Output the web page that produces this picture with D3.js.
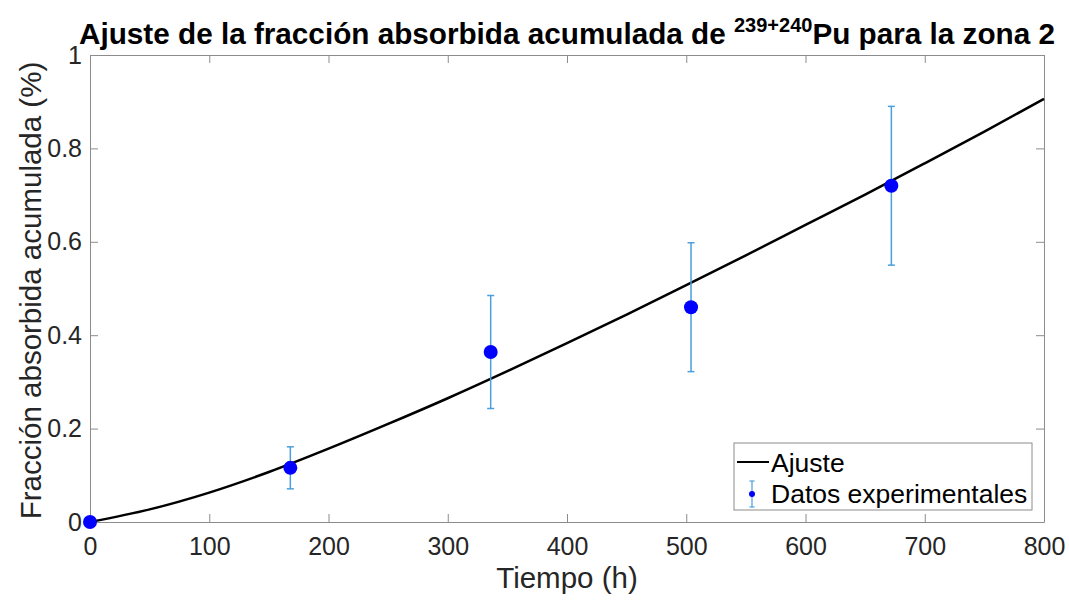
<!DOCTYPE html>
<html>
<head>
<meta charset="utf-8">
<script src="https://cdn.jsdelivr.net/npm/d3@7"></script>
<style>
  body { margin: 0; background: #fff; }
  svg { display: block; }
  text { font-family: "Liberation Sans", Arial, sans-serif; }
</style>
</head>
<body>
<svg id="chart" width="1069" height="601"></svg>
<script>
// Experimental points (hours, accumulated absorbed fraction %) and their error
const expTime = [0, 168, 336, 504, 672];
const expValue = [0, 0.116, 0.364, 0.460, 0.720];
const expErr = [0, 0.045, 0.121, 0.138, 0.170];

// Fitted curve
const fitTime = [0, 50, 100, 150, 200, 250, 300, 350, 400, 450, 500, 550, 600, 650, 700, 750, 800];
const fitValue = [0, 0.027, 0.063, 0.107, 0.157, 0.21, 0.265, 0.323, 0.383, 0.444, 0.507, 0.571, 0.636, 0.701, 0.768, 0.836, 0.906];

const xTicks = [0, 100, 200, 300, 400, 500, 600, 700, 800];
const yTicks = [0, 0.2, 0.4, 0.6, 0.8, 1];

const margin = {top: 55, right: 25, bottom: 79, left: 90};
const width = 1069 - margin.left - margin.right;
const height = 601 - margin.top - margin.bottom;

const svg = d3.select("#chart");
const g = svg.append("g")
    .attr("transform", "translate(" + margin.left + "," + margin.top + ")");

const x = d3.scaleLinear().domain([0, 800]).range([0, width]);
const y = d3.scaleLinear().domain([0, 1]).range([height, 0]);

const axisColor = "#8c8c8c";
const textColor = "#262626";

// ticks on all four sides, pointing inwards
const addAxis = (axis, transform) => {
    const a = g.append("g").attr("transform", transform).call(axis);
    a.select(".domain").attr("stroke", axisColor);
    a.selectAll(".tick line").attr("stroke", axisColor);
    a.selectAll("text").attr("fill", textColor).style("font-size", "25px");
    return a;
};

addAxis(d3.axisBottom(x).tickValues(xTicks).tickSizeInner(-8).tickSizeOuter(0).tickPadding(15).tickFormat(d3.format("d")),
    "translate(0," + height + ")");
addAxis(d3.axisTop(x).tickValues(xTicks).tickSizeInner(-8).tickSizeOuter(0).tickFormat(""), "translate(0,0)");
addAxis(d3.axisLeft(y).tickValues(yTicks).tickSizeInner(-8).tickSizeOuter(0).tickPadding(8).tickFormat(d => String(+d.toFixed(1))),
    "translate(0,0)");
addAxis(d3.axisRight(y).tickValues(yTicks).tickSizeInner(-8).tickSizeOuter(0).tickFormat(""), "translate(" + width + ",0)");

// fitted curve
const line = d3.line()
    .x((d, i) => x(fitTime[i]))
    .y(d => y(d))
    .curve(d3.curveMonotoneX);

g.append("path")
    .datum(fitValue)
    .attr("fill", "none")
    .attr("stroke", "#000")
    .attr("stroke-width", 2.5)
    .attr("d", line);

// error bars
const errColor = "#4a9fdc";
const eb = g.selectAll(".err")
    .data(expTime.map((t, i) => ({t: t, v: expValue[i], e: expErr[i]})))
    .enter().append("g").attr("class", "err");

eb.append("line")
    .attr("x1", d => x(d.t)).attr("x2", d => x(d.t))
    .attr("y1", d => y(d.v - d.e)).attr("y2", d => y(d.v + d.e))
    .attr("stroke", errColor).attr("stroke-width", 1.5);
eb.append("line")
    .attr("x1", d => x(d.t) - 3.5).attr("x2", d => x(d.t) + 3.5)
    .attr("y1", d => y(d.v + d.e)).attr("y2", d => y(d.v + d.e))
    .attr("stroke", errColor).attr("stroke-width", 1.5);
eb.append("line")
    .attr("x1", d => x(d.t) - 3.5).attr("x2", d => x(d.t) + 3.5)
    .attr("y1", d => y(d.v - d.e)).attr("y2", d => y(d.v - d.e))
    .attr("stroke", errColor).attr("stroke-width", 1.5);

eb.append("circle")
    .attr("cx", d => x(d.t))
    .attr("cy", d => y(d.v))
    .attr("r", 7)
    .attr("fill", "#0000ff");

// legend
const lg = g.append("g").attr("transform", "translate(" + (734 - margin.left) + "," + (443 - margin.top) + ")");
lg.append("rect")
    .attr("width", 298).attr("height", 67)
    .attr("fill", "#fff").attr("stroke", axisColor).attr("stroke-width", 1);
lg.append("line")
    .attr("x1", 3).attr("x2", 35).attr("y1", 19).attr("y2", 19)
    .attr("stroke", "#000").attr("stroke-width", 2);
lg.append("text")
    .attr("x", 37).attr("y", 29)
    .style("font-size", "26.5px").attr("fill", "#000")
    .text("Ajuste");
lg.append("line")
    .attr("x1", 18).attr("x2", 18).attr("y1", 38).attr("y2", 64)
    .attr("stroke", errColor).attr("stroke-width", 1.2);
lg.append("line")
    .attr("x1", 15.5).attr("x2", 20.5).attr("y1", 38).attr("y2", 38)
    .attr("stroke", errColor).attr("stroke-width", 1.2);
lg.append("line")
    .attr("x1", 15.5).attr("x2", 20.5).attr("y1", 64).attr("y2", 64)
    .attr("stroke", errColor).attr("stroke-width", 1.2);
lg.append("circle")
    .attr("cx", 18).attr("cy", 51).attr("r", 3)
    .attr("fill", "#0000ff");
lg.append("text")
    .attr("x", 37).attr("y", 60)
    .style("font-size", "26.5px").attr("fill", "#000")
    .text("Datos experimentales");

// axis labels
svg.append("text")
    .attr("x", margin.left + width / 2)
    .attr("y", 588)
    .attr("text-anchor", "middle")
    .style("font-size", "29.5px")
    .attr("fill", textColor)
    .text("Tiempo (h)");

svg.append("text")
    .attr("transform", "translate(41," + (margin.top + height / 2 + 2) + ") rotate(-90)")
    .attr("text-anchor", "middle")
    .style("font-size", "29.5px")
    .attr("fill", textColor)
    .text("Fracción absorbida acumulada (%)");

// title
const title = svg.append("text")
    .attr("x", margin.left + width / 2)
    .attr("y", 44)
    .attr("text-anchor", "middle")
    .style("font-family", "'Liberation Sans Narrow', 'Arial Narrow', 'Liberation Sans', sans-serif")
    .style("font-size", "29.7px")
    .style("font-weight", "bold")
    .attr("fill", "#000");
title.append("tspan").text("Ajuste de la fracción absorbida acumulada de ");
title.append("tspan").attr("dy", -12).style("font-size", "20px").text("239+240");
title.append("tspan").attr("dy", 12).text("Pu para la zona 2");
</script>
</body>
</html>
